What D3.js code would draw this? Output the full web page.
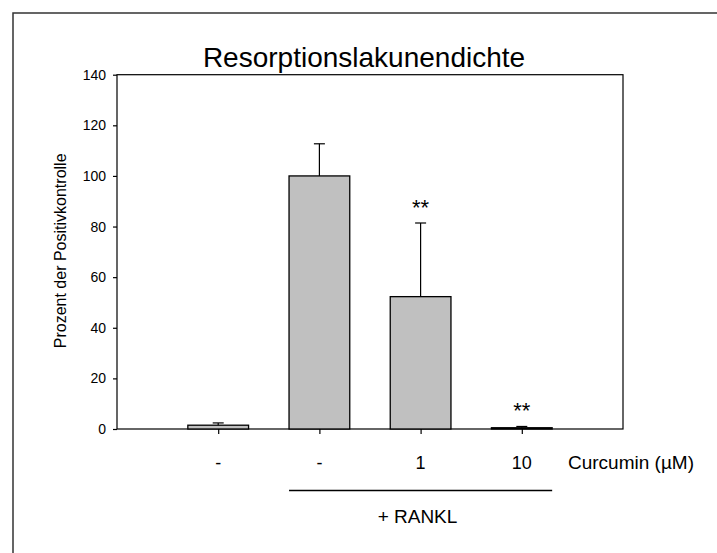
<!DOCTYPE html>
<html>
<head>
<meta charset="utf-8">
<script src="https://cdn.jsdelivr.net/npm/d3@7/dist/d3.min.js"></script>
<style>
  html, body { margin: 0; padding: 0; background: #fff; }
  svg { display: block; font-family: "Liberation Sans", Arial, Helvetica, sans-serif; }
</style>
</head>
<body>
<svg id="chart" width="717" height="553"></svg>
<script>
// Resorption lacuna density, percent of positive control
const categories = ["-", "-", "1", "10"];
const means = [1.5, 100, 52.3, 0.5];
const errors = [0.9, 12.7, 29.1, 0.5];
const significance = ["", "", "**", "**"];
const yTicks = [0, 20, 40, 60, 80, 100, 120, 140];

const svg = d3.select("#chart");

// outer frame
svg.append("rect")
  .attr("x", 13).attr("y", 13)
  .attr("width", 760).attr("height", 600)
  .attr("fill", "none").attr("stroke", "#333").attr("stroke-width", 1.5);

const plotLeft = 117, plotRight = 623, plotTop = 74.7, plotBottom = 429;

const x = d3.scaleLinear().domain([0, categories.length + 1]).range([plotLeft, plotRight]);
const y = d3.scaleLinear().domain([0, 140]).range([plotBottom, plotTop]);
const barW = x(0.6) - x(0);

// plot box
svg.append("rect")
  .attr("x", plotLeft).attr("y", plotTop)
  .attr("width", plotRight - plotLeft).attr("height", plotBottom - plotTop)
  .attr("fill", "none").attr("stroke", "#000").attr("stroke-width", 1.2);

// y axis
const yAxis = d3.axisLeft(y).tickValues(yTicks).tickSize(4).tickPadding(7);
const gy = svg.append("g").attr("transform", `translate(${plotLeft},0)`).call(yAxis);
gy.select(".domain").remove();
gy.selectAll("line").attr("stroke", "#000").attr("stroke-width", 1.2);
gy.selectAll("text").attr("font-size", 14).attr("fill", "#000")
  .attr("font-family", "Liberation Sans, Arial, sans-serif");

// x axis ticks at each category
const xAxis = d3.axisBottom(x).tickValues(d3.range(1, categories.length + 1))
  .tickSize(5).tickFormat("");
const gx = svg.append("g").attr("transform", `translate(0,${plotBottom})`).call(xAxis);
gx.select(".domain").remove();
gx.selectAll("line").attr("stroke", "#000").attr("stroke-width", 1.2);

const data = categories.map((c, i) => ({
  pos: i + 1, label: c, mean: means[i], err: errors[i], sig: significance[i]
}));

// error bars (upward only)
const eb = svg.append("g");
eb.selectAll("line.stem").data(data).join("line").attr("class", "stem")
  .attr("x1", d => x(d.pos)).attr("x2", d => x(d.pos))
  .attr("y1", d => y(d.mean)).attr("y2", d => y(d.mean + d.err))
  .attr("stroke", "#000").attr("stroke-width", 1.2);
eb.selectAll("line.cap").data(data).join("line").attr("class", "cap")
  .attr("x1", d => x(d.pos) - 5.5).attr("x2", d => x(d.pos) + 5.5)
  .attr("y1", d => y(d.mean + d.err)).attr("y2", d => y(d.mean + d.err))
  .attr("stroke", "#000").attr("stroke-width", 1.2);

// bars
svg.append("g").selectAll("rect").data(data).join("rect")
  .attr("x", d => x(d.pos) - barW / 2)
  .attr("y", d => y(d.mean))
  .attr("width", barW)
  .attr("height", d => y(0) - y(d.mean))
  .attr("fill", "#c0c0c0")
  .attr("stroke", "#000").attr("stroke-width", 1.3);

// significance marks
svg.append("g").selectAll("text").data(data.filter(d => d.sig)).join("text")
  .attr("x", d => x(d.pos))
  .attr("y", d => y(d.mean + d.err) - 8)
  .attr("text-anchor", "middle")
  .attr("font-size", 22)
  .text(d => d.sig);

// category labels
svg.append("g").selectAll("text").data(data).join("text")
  .attr("x", d => x(d.pos)).attr("y", 468.5)
  .attr("text-anchor", "middle").attr("font-size", 18)
  .text(d => d.label);

svg.append("text")
  .attr("x", 568).attr("y", 468.5)
  .attr("font-size", 19)
  .text("Curcumin (µM)");

// RANKL bracket spanning the treated groups
const rLeft = x(2) - barW / 2, rRight = x(4) + barW / 2;
svg.append("line")
  .attr("x1", rLeft).attr("x2", rRight)
  .attr("y1", 490.5).attr("y2", 490.5)
  .attr("stroke", "#000").attr("stroke-width", 1.3);
svg.append("text")
  .attr("x", 417.5).attr("y", 523)
  .attr("text-anchor", "middle").attr("font-size", 19)
  .text("+ RANKL");

// y axis title
svg.append("text")
  .attr("transform", `translate(66,${(plotTop + plotBottom) / 2 - 1}) rotate(-90)`)
  .attr("text-anchor", "middle").attr("font-size", 16)
  .text("Prozent der Positivkontrolle");

// chart title
svg.append("text")
  .attr("x", 364).attr("y", 67)
  .attr("text-anchor", "middle").attr("font-size", 28)
  .text("Resorptionslakunendichte");
</script>
</body>
</html>
